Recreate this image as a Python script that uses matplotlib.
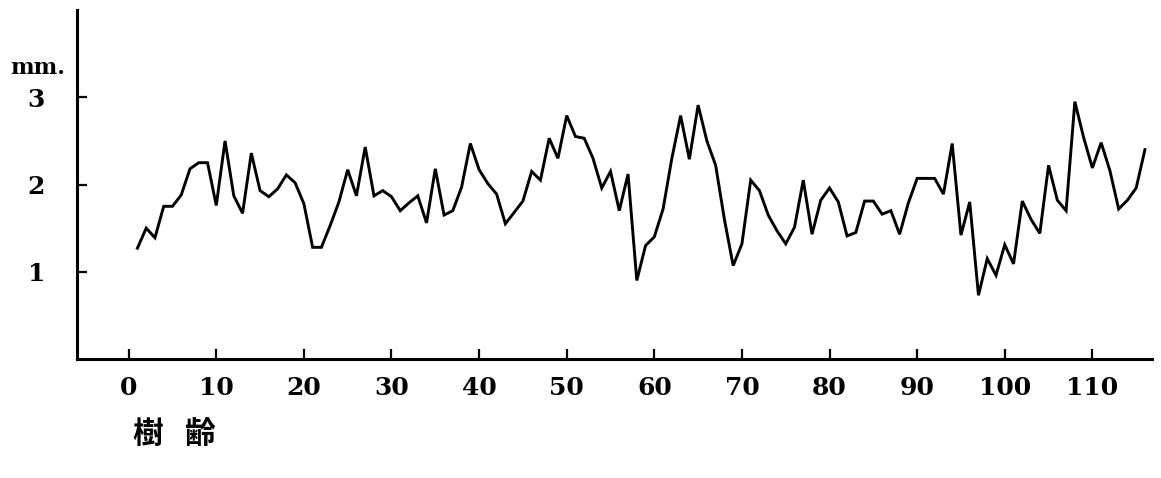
import matplotlib
matplotlib.use("Agg")
import matplotlib.pyplot as plt

# tree-ring width (mm) per year of tree age
years = list(range(1, 117))
ring_width = [
    1.27, 1.50, 1.39, 1.75, 1.75, 1.88, 2.18, 2.25, 2.25, 1.76,
    2.50, 1.87, 1.67, 2.36, 1.93, 1.86, 1.95, 2.11, 2.02, 1.78,
    1.28, 1.28, 1.53, 1.80, 2.17, 1.87, 2.43, 1.87, 1.93, 1.86,
    1.70, 1.79, 1.87, 1.56, 2.18, 1.65, 1.70, 1.97, 2.47, 2.17,
    2.01, 1.89, 1.55, 1.68, 1.81, 2.15, 2.05, 2.53, 2.30, 2.79,
    2.55, 2.53, 2.30, 1.96, 2.15, 1.70, 2.12, 0.90, 1.30, 1.40,
    1.72, 2.30, 2.79, 2.29, 2.91, 2.50, 2.22, 1.60, 1.07, 1.32,
    2.05, 1.93, 1.65, 1.47, 1.32, 1.51, 2.05, 1.43, 1.82, 1.96,
    1.80, 1.41, 1.45, 1.81, 1.81, 1.66, 1.70, 1.43, 1.79, 2.07,
    2.07, 2.07, 1.89, 2.47, 1.42, 1.80, 0.73, 1.15, 0.96, 1.31,
    1.09, 1.81, 1.60, 1.44, 2.22, 1.82, 1.70, 2.95, 2.54, 2.19,
    2.48, 2.16, 1.72, 1.82, 1.96, 2.40,
]
x_ticks = list(range(0, 111, 10))
y_ticks = [1, 2, 3]

serif = ["DejaVu Serif"]
cjk = ["Noto Sans CJK JP", "DejaVu Sans"]

fig = plt.figure(figsize=(11.61, 4.78), dpi=100)
ax = fig.add_axes([0.0663, 0.249, 0.9259, 0.730])

ax.plot(years, ring_width, color="black", linewidth=2.1, solid_joinstyle="miter")

ax.set_xlim(-5.9, 116.8)
ax.set_ylim(0, 4.0)

ax.spines["top"].set_visible(False)
ax.spines["right"].set_visible(False)
for s in ("left", "bottom"):
    ax.spines[s].set_linewidth(2.2)

ax.set_xticks(x_ticks)
ax.set_yticks(y_ticks)
ax.tick_params(axis="both", direction="in", length=7, width=1.6)
ax.tick_params(axis="x", pad=12)
ax.tick_params(axis="y", pad=23)
for lab in ax.get_xticklabels() + ax.get_yticklabels():
    lab.set_family(serif)
    lab.set_fontsize(18)
    lab.set_fontweight("bold")

fig.text(0.009, 0.858, "mm.", family=serif, fontsize=16, fontweight="bold",
         va="center", ha="left")
# axis title "tree age", the two characters set apart as in the print
fig.text(0.114, 0.092, "樹", family=cjk, fontsize=22, fontweight="bold",
         va="center", ha="left")
fig.text(0.159, 0.092, "齢", family=cjk, fontsize=22, fontweight="bold",
         va="center", ha="left")

fig.savefig("out.png", dpi=100, facecolor="white")
